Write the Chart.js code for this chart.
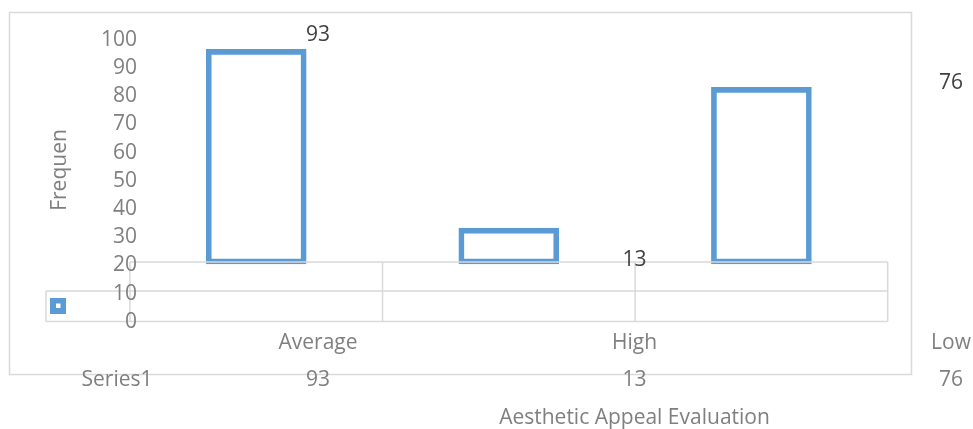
<html>
<head>
  <title>Aesthetic Appeal Evaluation</title>
  <style type="text/css">
    body { margin: 0; background: #ffffff; }
    #container { position: relative; width: 973px; height: 429px; }
  </style>
</head>
<body>
  <div id="container"><canvas id="chart"></canvas></div>
  <script src="https://cdn.jsdelivr.net/npm/chart.js@4"></script>
  <script>
    const categories = ["Average", "High", "Low"];
    const frequencies = [93, 13, 76];
    const seriesName = "Series1";
    const yTickLabels = [0, 10, 20, 30, 40, 50, 60, 70, 80, 90, 100];
    const xTitle = "Aesthetic Appeal Evaluation";
    const yTitle = "Frequen";

    const barColor = "#5B9BD5";
    const gridColor = "#d9d9d9";
    const labelColor = "#7f7f7f";
    const valueColor = "#404040";
    const font = "21px 'Open Sans'";

    // fixed pieces of the frame and data table, in canvas pixels
    const frame = { left: 9.5, top: 12.5, right: 911.5, bottom: 374.5 };
    const table = { rowTop: 262, rowMid: 291, rowBottom: 321.5, keyLeft: 46 };

    function text(ctx, str, x, y, color, align, baseline) {
      ctx.fillStyle = color;
      ctx.textAlign = align || "center";
      ctx.textBaseline = baseline || "alphabetic";
      ctx.fillText(str, x, y);
    }

    function line(ctx, x1, y1, x2, y2) {
      ctx.beginPath();
      ctx.moveTo(x1, y1);
      ctx.lineTo(x2, y2);
      ctx.stroke();
    }

    const decorations = {
      id: "decorations",
      beforeDatasetsDraw(chart) {
        const ctx = chart.ctx;
        ctx.save();
        ctx.strokeStyle = gridColor;
        ctx.lineWidth = 1.5;
        ctx.strokeRect(frame.left, frame.top, frame.right - frame.left, frame.bottom - frame.top);
        ctx.restore();
      },
      afterDatasetsDraw(chart) {
        const ctx = chart.ctx;
        const { x, xCat, yTick } = chart.scales;
        ctx.save();

        // data table grid under the plot
        ctx.strokeStyle = gridColor;
        ctx.lineWidth = 1.5;
        const left = x.getPixelForValue(-0.5);
        const right = x.getPixelForValue(categories.length - 0.5);
        line(ctx, left, table.rowTop, right, table.rowTop);
        line(ctx, table.keyLeft, table.rowMid, right, table.rowMid);
        line(ctx, table.keyLeft, table.rowBottom, right, table.rowBottom);
        line(ctx, table.keyLeft, table.rowMid, table.keyLeft, table.rowBottom);
        for (let i = 0; i <= categories.length; i++) {
          const px = x.getPixelForValue(i - 0.5);
          line(ctx, px, table.rowTop, px, table.rowBottom);
        }

        // legend key
        ctx.fillStyle = barColor;
        ctx.fillRect(50, 298, 16, 16);
        ctx.fillStyle = "#ffffff";
        ctx.fillRect(56, 303.5, 4.5, 4.5);

        ctx.font = font;

        // value axis labels
        for (const t of yTickLabels) {
          text(ctx, String(t), 137, yTick.getPixelForValue(t), labelColor, "right", "middle");
        }

        // axis title on the left
        ctx.save();
        ctx.translate(65.5, 170);
        ctx.rotate(-Math.PI / 2);
        text(ctx, yTitle, 0, 0, labelColor, "center", "alphabetic");
        ctx.restore();

        categories.forEach((c, i) => {
          const px = xCat.getPixelForValue(i);
          text(ctx, c, px, 348.5, labelColor);
          text(ctx, String(frequencies[i]), px, 385.5, labelColor);
          text(ctx, String(frequencies[i]), px, yTick.getPixelForValue(frequencies[i]) - 25, valueColor, "center", "middle");
        });
        text(ctx, seriesName, 117, 385.5, labelColor);
        text(ctx, xTitle, xCat.getPixelForValue(1), 424, labelColor);

        ctx.restore();
      }
    };

    const config = {
      type: "bar",
      data: {
        datasets: [{
          label: seriesName,
          data: frequencies.map((v, i) => ({ x: i, y: v })),
          xAxisID: "x",
          yAxisID: "y",
          backgroundColor: "rgba(255,255,255,0)",
          borderColor: barColor,
          borderWidth: 5,
          borderSkipped: false,
          barThickness: 100,
          base: -3.04
        }]
      },
      options: {
        responsive: true,
        maintainAspectRatio: false,
        animation: false,
        events: [],
        layout: { padding: 0 },
        plugins: {
          legend: { display: false },
          title: { display: false },
          tooltip: { enabled: false }
        },
        scales: {
          x: { type: "linear", display: false, offset: false, bounds: "data", min: -1.0143, max: 2.8377, grid: { offset: false } },
          y: { type: "linear", display: false, bounds: "data", min: -76.87, max: 115.08 },
          xCat: { type: "linear", axis: "x", display: false, offset: false, bounds: "data", min: -1.0047, max: 2.0695, grid: { offset: false } },
          yTick: { type: "linear", axis: "y", display: false, bounds: "data", min: -38.09, max: 114.2 }
        }
      },
      plugins: [decorations]
    };

    new Chart(document.getElementById("chart"), config);
  </script>
</body>
</html>
